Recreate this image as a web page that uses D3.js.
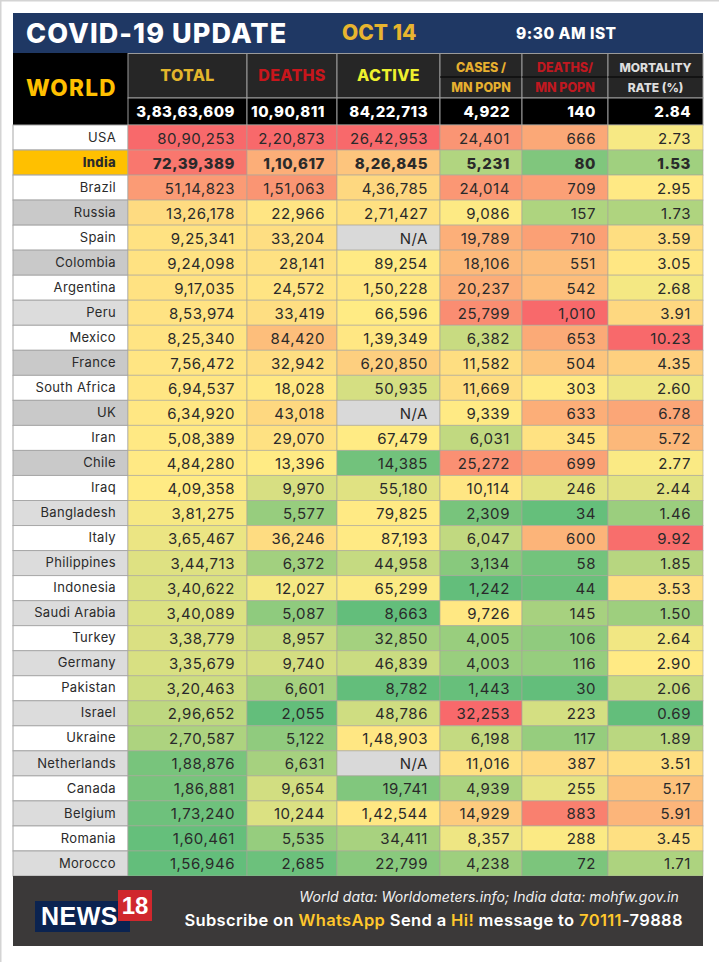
<!DOCTYPE html>
<html>
<head>
<meta charset="utf-8">
<script src="https://cdn.jsdelivr.net/npm/d3@7"></script>
<style>
  html, body { margin: 0; padding: 0; background: #fff; }
  svg { display: block; }
  text { font-family: Inter, "Open Sans", sans-serif; }
</style>
</head>
<body>
<svg id="chart" width="719" height="962"></svg>
<script>
// data
var countries = ['USA', 'India', 'Brazil', 'Russia', 'Spain', 'Colombia', 'Argentina', 'Peru', 'Mexico', 'France',
  'South Africa', 'UK', 'Iran', 'Chile', 'Iraq', 'Bangladesh', 'Italy', 'Philippines', 'Indonesia', 'Saudi Arabia',
  'Turkey', 'Germany', 'Pakistan', 'Israel', 'Ukraine', 'Netherlands', 'Canada', 'Belgium', 'Romania', 'Morocco'];
var total = [8090253, 7239389, 5114823, 1326178, 925341, 924098, 917035, 853974, 825340, 756472,
  694537, 634920, 508389, 484280, 409358, 381275, 365467, 344713, 340622, 340089,
  338779, 335679, 320463, 296652, 270587, 188876, 186881, 173240, 160461, 156946];
var deaths = [220873, 110617, 151063, 22966, 33204, 28141, 24572, 33419, 84420, 32942,
  18028, 43018, 29070, 13396, 9970, 5577, 36246, 6372, 12027, 5087,
  8957, 9740, 6601, 2055, 5122, 6631, 9654, 10244, 5535, 2685];
var active = [2642953, 826845, 436785, 271427, null, 89254, 150228, 66596, 139349, 620850,
  50935, null, 67479, 14385, 55180, 79825, 87193, 44958, 65299, 8663,
  32850, 46839, 8782, 48786, 148903, null, 19741, 142544, 34411, 22799];
var casesPerMn = [24401, 5231, 24014, 9086, 19789, 18106, 20237, 25799, 6382, 11582,
  11669, 9339, 6031, 25272, 10114, 2309, 6047, 3134, 1242, 9726,
  4005, 4003, 1443, 32253, 6198, 11016, 4939, 14929, 8357, 4238];
var deathsPerMn = [666, 80, 709, 157, 710, 551, 542, 1010, 653, 504,
  303, 633, 345, 699, 246, 34, 600, 58, 44, 145,
  106, 116, 30, 223, 117, 387, 255, 883, 288, 72];
var mortality = [2.73, 1.53, 2.95, 1.73, 3.59, 3.05, 2.68, 3.91, 10.23, 4.35,
  2.60, 6.78, 5.72, 2.77, 2.44, 1.46, 9.92, 1.85, 3.53, 1.50,
  2.64, 2.90, 2.06, 0.69, 1.89, 3.51, 5.17, 5.91, 3.45, 1.71];
var worldTotals = [38363609, 1090811, 8422713, 4922, 140, 2.84];
var darkLabels = ['Russia', 'Colombia', 'France', 'UK', 'Chile'];

var columns = [total, deaths, active, casesPerMn, deathsPerMn, mortality];
var columnKeys = d3.range(columns.length);

// layout
var edges = [128, 247, 337, 440, 522, 608, 703];
var left = 13, right = 703;
var x0 = d3.scaleOrdinal().domain(columnKeys).range(edges.slice(0, 6));
var x1 = d3.scaleOrdinal().domain(columnKeys).range(edges.slice(1));
var y = d3.scaleBand().domain(countries).range([125, 876]);

var indian = d3.formatLocale({ decimal: '.', thousands: ',', grouping: [3, 2, 2, 2], currency: ['', ''] });
var fmtInt = indian.format(',d');
var fmtRate = d3.format('.2f');
function fmt(col, v) {
  if (v === null) return 'N/A';
  return col === 5 ? fmtRate(v) : fmtInt(v);
}

// excel style three colour scale on every column
var heat = columns.map(function(vals) {
  var known = vals.filter(function(v) { return v !== null; });
  return d3.scaleLinear()
    .domain([d3.min(known), d3.median(known), d3.max(known)])
    .range(['#63be7b', '#ffeb84', '#f8696b']);
});

var svg = d3.select('#chart');

// scan edge of the original
svg.append('rect').attr('width', 719).attr('height', 1.5).attr('fill', '#d4d4d4');
svg.append('rect').attr('width', 1.5).attr('height', 962).attr('fill', '#d4d4d4');

// title bar
svg.append('rect').attr('x', left).attr('y', 13).attr('width', right - left).attr('height', 40)
  .attr('fill', '#1f3864');
function label(parent, o) {
  var t = parent.append('text')
    .attr('x', o.x).attr('y', o.y)
    .attr('text-anchor', o.anchor || 'start')
    .attr('fill', o.fill)
    .style('font-size', o.size + 'px')
    .style('font-weight', o.weight || 400)
    .style('font-style', o.italic ? 'italic' : 'normal')
    .style('letter-spacing', (o.spacing || 0) + 'px')
    .text(o.text);
  if (o.family) t.style('font-family', o.family);
  return t;
}
label(svg, { x: 26, y: 43, text: 'COVID-19 UPDATE', fill: '#fff', size: 27, weight: 800, spacing: 1.1 });
label(svg, { x: 342, y: 40, text: 'OCT 14', fill: '#e8b52f', size: 21, weight: 800 });
label(svg, { x: 516, y: 39, text: '9:30 AM IST', fill: '#fff', size: 15.5, weight: 800, spacing: 0.5 });

// header
svg.append('rect').attr('x', left).attr('y', 53).attr('width', 115).attr('height', 72).attr('fill', '#000');
label(svg, { x: 26, y: 96, text: 'WORLD', fill: '#ffc000', size: 22.5, weight: 800, spacing: 1.3 });

var headerTop = [
  { text: 'TOTAL', fill: '#e3b62c', size: 16 },
  { text: 'DEATHS', fill: '#c8161c', size: 16 },
  { text: 'ACTIVE', fill: '#eef02e', size: 16 },
  { text: 'CASES /', fill: '#e7b02f', size: 12.5, sub: 'MN POPN' },
  { text: 'DEATHS/', fill: '#c01820', size: 12.5, sub: 'MN POPN' },
  { text: 'MORTALITY', fill: '#dedede', size: 12, sub: 'RATE (%)' }
];
var head = svg.append('g').selectAll('g').data(columnKeys).join('g');
head.append('rect')
  .attr('x', function(c) { return x0(c); })
  .attr('y', 53.5)
  .attr('width', function(c) { return x1(c) - x0(c); })
  .attr('height', 44.5)
  .attr('fill', '#262626')
  .attr('stroke', '#9a9a9a');
head.each(function(c) {
  var g = d3.select(this), h = headerTop[c], mid = (x0(c) + x1(c)) / 2;
  if (h.sub) {
    g.append('line').attr('x1', x0(c)).attr('x2', x1(c)).attr('y1', 77).attr('y2', 77).attr('stroke', '#000');
    label(g, { x: mid, y: 72, anchor: 'middle', text: h.text, fill: h.fill, size: h.size, weight: 800 });
    label(g, { x: mid, y: 92, anchor: 'middle', text: h.sub, fill: h.fill, size: h.size, weight: 800 });
  } else {
    label(g, { x: mid, y: 81, anchor: 'middle', text: h.text, fill: h.fill, size: h.size, weight: 800, spacing: 0.3 });
  }
});

// world totals row
var world = svg.append('g').selectAll('g').data(columnKeys).join('g');
world.append('rect')
  .attr('x', function(c) { return x0(c); })
  .attr('y', 98)
  .attr('width', function(c) { return x1(c) - x0(c); })
  .attr('height', 27)
  .attr('fill', '#000')
  .attr('stroke', '#9a9a9a');
world.each(function(c) {
  label(d3.select(this), { x: x1(c) - 12, y: 117, anchor: 'end', text: fmt(c, worldTotals[c]), fill: '#fff', size: 15, weight: 800, spacing: 0.5 });
});

// country rows
var rows = svg.append('g').selectAll('g').data(countries).join('g')
  .attr('transform', function(d) { return 'translate(0,' + y(d) + ')'; });
rows.append('rect')
  .attr('x', left)
  .attr('width', 115)
  .attr('height', y.bandwidth())
  .attr('stroke', '#a8a8a8')
  .attr('fill', function(d, i) {
    if (d === 'India') return '#ffc000';
    if (i % 2 === 0 || d === 'USA') return '#fff';
    return darkLabels.indexOf(d) >= 0 ? '#c9c9c9' : '#dcdcdc';
  });
rows.append('text')
  .attr('x', 116)
  .attr('y', 16.7)
  .attr('text-anchor', 'end')
  .attr('fill', '#2a2a2a')
  .style('font-size', '13px')
  .style('letter-spacing', '0.35px')
  .style('font-weight', function(d) { return d === 'India' ? 800 : 400; })
  .text(function(d) { return d; });

rows.each(function(d, i) {
  var row = d3.select(this);
  columnKeys.forEach(function(c) {
    var v = columns[c][i];
    row.append('rect')
      .attr('x', x0(c))
      .attr('width', x1(c) - x0(c))
      .attr('height', y.bandwidth())
      .attr('fill', v === null ? '#d9d9d9' : heat[c](v))
      .attr('stroke', '#a8a59a')
      .attr('stroke-opacity', 0.6);
    row.append('text')
      .attr('x', x1(c) - 12)
      .attr('y', 18.5)
      .attr('text-anchor', 'end')
      .attr('fill', '#2a2a2a')
      .style('font-size', '15px')
      .style('letter-spacing', '0.55px')
      .style('font-weight', d === 'India' ? 800 : 400)
      .text(fmt(c, v));
  });
});

// footer
svg.append('rect').attr('x', left).attr('y', 876).attr('width', right - left).attr('height', 70)
  .attr('fill', '#3b3939');
svg.append('rect').attr('x', 35).attr('y', 901).attr('width', 95).attr('height', 31).attr('fill', '#0b2350');
svg.append('rect').attr('x', 118).attr('y', 890).attr('width', 34).attr('height', 31).attr('fill', '#d0272d');
label(svg, { x: 41, y: 925, text: 'NEWS', fill: '#fff', size: 25, weight: 700, family: '"Liberation Sans Narrow", "Liberation Sans"', spacing: 0.5 });
label(svg, { x: 135, y: 914, anchor: 'middle', text: '18', fill: '#fff', size: 24, weight: 700, family: '"Liberation Sans Narrow", "Liberation Sans"' });
label(svg, { x: 679, y: 902, anchor: 'end', text: 'World data: Worldometers.info; India data: mohfw.gov.in', fill: '#f2f2f2', size: 14, italic: true, spacing: 0.1 });

var sub = label(svg, { x: 683, y: 926, anchor: 'end', text: '', fill: '#fff', size: 16.5, weight: 600, spacing: 0.37 });
sub.attr('xml:space', 'preserve');
[['Subscribe on ', '#fff'], ['WhatsApp', '#ffc72c'], [' Send a ', '#fff'], ['Hi!', '#ffc72c'],
 [' message to ', '#fff'], ['70111', '#ffc72c'], ['-79888', '#fff']].forEach(function(p) {
  sub.append('tspan').attr('fill', p[1]).style('white-space', 'pre').text(p[0]);
});
</script>
</body>
</html>
